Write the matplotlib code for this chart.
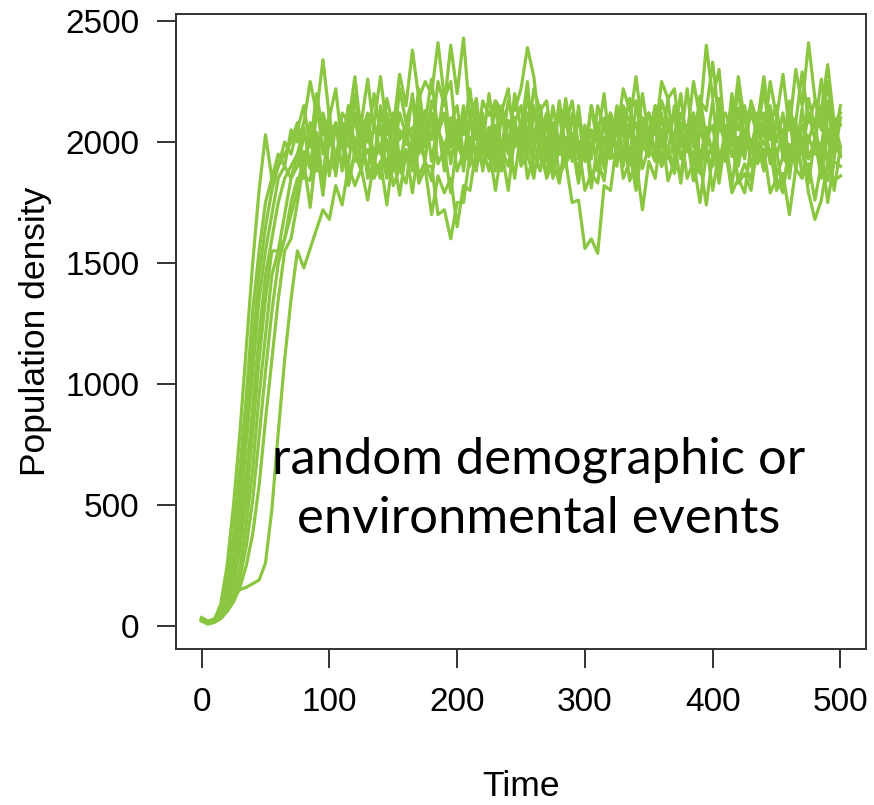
import numpy as np
import matplotlib
matplotlib.use("Agg")
from matplotlib import pyplot as plt

# time axis, one reading every 5 time units
time = np.arange(0, 501, 5)

# population density read off each simulated run (0..75 growth, then 80..500)
run_a = [30, 15, 25, 90, 250, 500, 800, 1150, 1500, 1800, 2030, 1850, 1900, 2000, 1950, 2050,
         2150, 1980, 2180, 1950, 2120, 1900, 2080, 2020, 2200, 1990,
         2060, 1920, 2150, 1980, 1880, 2050, 1990, 2200, 2000, 2090,
         2010, 2250, 2150, 2400, 2200, 2430, 2100, 2180, 1950, 2060,
         1950, 2150, 1990, 2080, 1960, 2200, 2000, 2100, 1950, 2150,
         1980, 2100, 1920, 2150, 1930, 2050, 1880, 2100, 1960, 2150,
         2050, 2180, 1930, 2100, 1960, 2150, 1900, 2060, 2000, 2120,
         2030, 2250, 2100, 2400, 2180, 2300, 1990, 2100, 1950, 2150,
         1960, 2100, 1900, 2150, 2000, 2120, 1920, 2080, 1960, 2120,
         2010, 2150, 1900, 2080, 1950]
run_b = [25, 10, 20, 70, 180, 380, 650, 950, 1300, 1550, 1750, 1850, 1950, 1900, 2050, 2000,
         2080, 2250, 2120, 2340, 2100, 2220, 1980, 2150, 1950, 2100,
         2000, 2200, 2030, 2120, 1960, 2220, 2080, 2180, 1950, 2130,
         1920, 2080, 1880, 2100, 1980, 2150, 1900, 2080, 1990, 2200,
         1980, 2120, 1950, 2200, 2050, 2250, 1950, 2150, 1920, 2080,
         1950, 2150, 1980, 2100, 1920, 2150, 2020, 2200, 1950, 2100,
         1900, 2080, 1990, 2200, 2020, 2150, 1980, 2180, 1930, 2050,
         1960, 2120, 1930, 2060, 1950, 2180, 2030, 2150, 1900, 2050,
         1950, 2120, 2020, 2250, 2100, 2280, 2050, 2300, 2150, 2410,
         2180, 2050, 2250, 2000, 2150]
run_c = [35, 20, 30, 60, 150, 300, 550, 850, 1150, 1450, 1650, 1800, 1900, 1950, 2000, 2080,
         1880, 2080, 1950, 2100, 1860, 2080, 1980, 2150, 1920, 2000,
         1880, 2080, 1950, 2180, 2060, 2280, 2150, 2380, 2180, 2250,
         2200, 2410, 2180, 2250, 1980, 2100, 1950, 2120, 1880, 2050,
         1900, 2120, 2000, 2100, 1920, 2120, 2020, 2150, 1950, 2060,
         1980, 2180, 2000, 2120, 1960, 2150, 1980, 2080, 1930, 2120,
         1950, 2060, 1850, 2050, 1950, 2100, 1900, 2080, 2020, 2200,
         1980, 2080, 1870, 2020, 1960, 2150, 1950, 2200, 2050, 2120,
         1900, 2000, 1880, 2100, 1940, 2050, 1850, 2050, 1960, 2180,
         2060, 2260, 2030, 2080, 1980]
run_d = [20, 8, 15, 50, 120, 260, 470, 760, 1050, 1350, 1550, 1700, 1850, 1900, 1850, 1950,
         2060, 1900, 1980, 1850, 2100, 1920, 2000, 1820, 1960, 1900,
         2100, 1930, 1980, 1850, 1950, 1780, 1960, 1900, 2100, 1900,
         1900, 1700, 1720, 1600, 1750, 1750, 1950, 1880, 2080, 1980,
         2150, 1950, 2030, 1850, 2050, 1980, 2150, 1960, 2020, 1850,
         2020, 1930, 1990, 1830, 2020, 1950, 2080, 1900, 1970, 1900,
         2120, 2020, 2080, 1890, 1980, 1920, 2120, 1930, 2000, 1830,
         2020, 1930, 2110, 1920, 1990, 1830, 2020, 1940, 2140, 1960,
         2010, 1930, 2110, 1920, 1960, 1800, 1980, 1940, 2140, 1930,
         2010, 1850, 2050, 1800, 1980]
run_e = [30, 12, 18, 45, 100, 200, 380, 620, 900, 1200, 1450, 1600, 1750, 1850, 1900, 1950,
         1850, 2050, 1880, 2120, 2020, 2080, 1880, 2100, 2000, 2060,
         1850, 1920, 1880, 2100, 1920, 2120, 2030, 2060, 1860, 1920,
         1840, 2050, 1980, 2070, 1880, 1960, 1920, 2150, 1990, 2060,
         1880, 1960, 1800, 2020, 1950, 2060, 1880, 1950, 1860, 2060,
         1860, 1920, 1750, 1760, 1560, 1600, 1540, 1820, 1800, 2000,
         1920, 1960, 1800, 1990, 1940, 2110, 1920, 1970, 1890, 2080,
         2040, 2120, 1920, 1990, 1800, 1960, 1920, 2020, 1840, 1910,
         1840, 2040, 1990, 2070, 1860, 1940, 1890, 2060, 1860, 1910,
         1760, 1910, 1840, 2010, 1940]
run_f = [28, 15, 22, 40, 90, 170, 320, 520, 800, 1100, 1350, 1550, 1550, 1700, 1850, 1900,
         2020, 1980, 2200, 2040, 2080, 1860, 2050, 1980, 2170, 2080,
         2260, 2040, 2070, 1880, 2090, 2010, 2070, 1880, 2120, 2080,
         2260, 2040, 2110, 2080, 2150, 1940, 2020, 1950, 2170, 2110,
         2170, 2130, 2220, 1980, 2080, 2010, 2220, 2130, 2170, 1980,
         2170, 1960, 2020, 1840, 2050, 1980, 2070, 1890, 2090, 2030,
         2220, 2130, 2170, 1980, 2050, 1960, 2170, 2080, 2120, 1930,
         2020, 1840, 2050, 1980, 2170, 1930, 2020, 1820, 2020, 1930,
         2170, 2080, 2120, 1910, 2100, 2030, 2120, 1880, 2070, 2010,
         2090, 1880, 2120, 2050, 2070]
run_g = [22, 10, 20, 35, 70, 130, 240, 420, 650, 950, 1200, 1450, 1550, 1600, 1750, 1850,
         1860, 1840, 2040, 1840, 1920, 1880, 2070, 1860, 1950, 1880,
         2070, 1850, 1920, 1740, 1950, 1880, 1970, 1790, 1990, 1930,
         2120, 1910, 1970, 1790, 1990, 1930, 2120, 1910, 1970, 1880,
         2070, 1880, 2090, 2010, 2070, 1850, 1950, 1880, 2090, 2030,
         2120, 1910, 1970, 1880, 2070, 1850, 1920, 1840, 2050, 1980,
         2050, 1840, 1920, 1720, 1920, 1850, 2050, 1840, 1920, 1860,
         2050, 1840, 1920, 1740, 1950, 1880, 1970, 1790, 1850, 1790,
         1990, 1910, 1970, 1790, 1850, 1790, 1990, 1910, 1970, 1790,
         1680, 1760, 1920, 1840, 1860]
run_h = [32, 18, 25, 40, 75, 120, 200, 330, 520, 780, 1050, 1300, 1500, 1600, 1700, 1800,
         1960, 1890, 2120, 2030, 2090, 1910, 2120, 2080, 2270, 2030,
         2120, 2080, 2270, 2050, 2120, 1930, 2020, 1950, 2170, 1980,
         2170, 2080, 2120, 1910, 2090, 2030, 2220, 2010, 2070, 1980,
         2170, 2080, 2150, 2130, 2220, 2390, 2270, 2030, 2120, 1930,
         2150, 2080, 2170, 1980, 2050, 1930, 2150, 2050, 2120, 1930,
         2150, 2080, 2270, 2050, 2120, 2030, 2250, 2180, 2220, 2010,
         2220, 1980, 2170, 2130, 2330, 2080, 2120, 2030, 2270, 2080,
         2150, 2080, 2270, 2080, 2150, 1930, 2120, 2080, 2290, 2080,
         2170, 2130, 2320, 2080, 2120]
run_i = [25, 10, 15, 30, 60, 100, 160, 250, 380, 580, 850, 1100, 1350, 1550, 1600, 1750,
         1920, 1730, 1970, 1780, 2020, 1930, 1990, 1910, 2120, 1910,
         1970, 1880, 2120, 2030, 2090, 1880, 2070, 2010, 2220, 2030,
         2120, 2030, 2220, 1980, 2070, 1880, 2090, 2030, 2120, 1930,
         2050, 1980, 2170, 2080, 2150, 1930, 2120, 2030, 2090, 1880,
         1970, 1910, 2120, 1930, 2020, 1810, 1990, 1930, 2120, 2030,
         2120, 1930, 2150, 2080, 2120, 1930, 2020, 1950, 2150, 1980,
         2070, 1980, 2190, 2010, 2070, 1880, 2070, 2010, 2220, 2010,
         2120, 2030, 2220, 2010, 2070, 1980, 2170, 1980, 2020, 1830,
         2020, 1980, 2170, 1930, 2100]
run_j = [30, 12, 20, 40, 80, 120, 150, 160, 175, 190, 260, 480, 800, 1100, 1350, 1550,
         1480, 1560, 1640, 1720, 1680, 1820, 1740, 1900, 1820, 1890,
         1760, 1920, 1850, 2010, 1820, 1890, 1830, 2020, 1830, 1890,
         1700, 1860, 1790, 1850, 1650, 1820, 1800, 1970, 1900, 1970,
         1800, 1970, 1900, 2070, 1900, 1950, 1850, 2050, 1850, 1920,
         1830, 2020, 1950, 1990, 1800, 1870, 1830, 2020, 1970, 2050,
         1850, 1920, 1870, 2050, 2000, 2070, 1900, 1950, 1870, 2050,
         1850, 1920, 1750, 1950, 1900, 2070, 2000, 2020, 1830, 1870,
         1800, 1990, 1930, 1970, 1800, 1870, 1700, 1890, 1850, 2020,
         1950, 1970, 1750, 1920, 1900]

runs = [run_a, run_b, run_c, run_d, run_e, run_f, run_g, run_h, run_i, run_j]

x_ticks = [0, 100, 200, 300, 400, 500]
y_ticks = [0, 500, 1000, 1500, 2000, 2500]

plt.rcParams['font.family'] = ['Liberation Sans', 'DejaVu Sans']

fig = plt.figure(figsize=(8.74, 8.05), dpi=100)
ax = fig.add_axes([0.2014, 0.1938, 0.7895, 0.7888])

for run in runs:
    ax.plot(time, run, color='#8AC640', lw=2.3)

ax.set_xlim(-20, 520)
ax.set_ylim(-95, 2529)
ax.set_xticks(x_ticks)
ax.set_yticks(y_ticks)
ax.tick_params(axis='both', direction='out', length=13.5, width=1.4,
               color='#333333', labelsize=24, pad=13)
ax.tick_params(axis='x', pad=14)
for s in ax.spines.values():
    s.set_color('#333333')
    s.set_linewidth(1.4)

ax.set_xlabel("Time", fontsize=25.5)
ax.set_ylabel("Population density", fontsize=25.5)
ax.xaxis.set_label_coords(0.5, -0.217)
ax.xaxis.label.set_va('center')
ax.yaxis.set_label_coords(-0.204, 0.5)
ax.yaxis.label.set_va('center')

ax.text(264, 566, "random demographic or\nenvironmental events",
        ha='center', va='center', fontsize=36.5, family=['Lato', 'DejaVu Sans'],
        linespacing=1.34, color='black')

fig.savefig("out.png", dpi=100)
